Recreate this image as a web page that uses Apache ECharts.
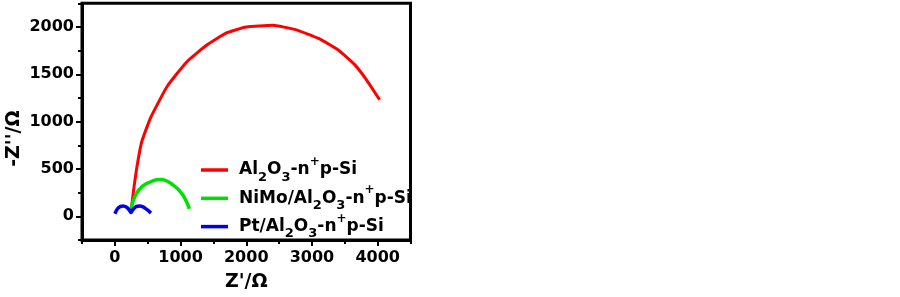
<!DOCTYPE html>
<html><head><meta charset="utf-8">
<script src="https://cdn.jsdelivr.net/npm/echarts@6/dist/echarts.min.js"></script>
<style>html,body{margin:0;padding:0;background:#fff}#c{width:900px;height:297px}</style>
</head><body><div id="c"></div>
<script>
const seriesNames = ['Al2O3-n+p-Si', 'NiMo/Al2O3-n+p-Si', 'Pt/Al2O3-n+p-Si'];
const xTicks = [0, 1000, 2000, 3000, 4000];
const yTicks = [0, 500, 1000, 1500, 2000];
const redData = [[245,45],[290,300],[340,540],[410,790],[550,1050],[800,1376],[1100,1636],[1400,1809],[1700,1937],[2000,1999],[2400,2017],[2750,1972],[3100,1879],[3400,1757],[3650,1602],[3825,1446],[4030,1231]];
const greenData = [[245,80],[320,230],[425,322],[575,374],[700,388],[875,338],[1025,235],[1135,79]];
const blueData = [[0,27],[40,80],[80,102],[125,108],[180,95],[220,65],[245,40],[270,65],[320,100],[375,110],[430,100],[490,70],[550,34]];

const FONT = 'DejaVu Sans';
const chart = echarts.init(document.getElementById('c'), null, {renderer: 'canvas'});
const legendFmt = n => n.replace('Al2O3', 'Al{sub|2}O{sub|3}').replace('n+p', 'n{sup|+}p');
const plainFmt = v => String(v);
const tickStyle = {color: '#000', width: 2};
chart.setOption({
  animation: false,
  backgroundColor: '#fff',
  grid: {left: 82, right: 489.5, top: 3.3, bottom: 53.7, show: true, borderColor: '#000', borderWidth: 3, backgroundColor: 'transparent'},
  legend: {
    orient: 'vertical', left: 196, top: 151, itemGap: 0.3, itemWidth: 27, itemHeight: 3.5, icon: 'rect',
    data: seriesNames,
    formatter: legendFmt,
    textStyle: {
      fontFamily: FONT, fontWeight: 'bold', fontSize: 17, color: '#000', lineHeight: 28, padding: [0,0,0,6],
      rich: {
        sub: {fontFamily: FONT, fontWeight: 'bold', fontSize: 13, lineHeight: 13, verticalAlign: 'bottom', color: '#000'},
        sup: {fontFamily: FONT, fontWeight: 'bold', fontSize: 12, lineHeight: 12, verticalAlign: 'top', color: '#000'}
      }
    }
  },
  xAxis: [
    {type: 'value', min: -500, max: 4500, interval: 500, position: 'bottom',
     axisLine: {onZero: false, lineStyle: {color: '#000', width: 3}}, axisTick: {length: 4, lineStyle: tickStyle},
     axisLabel: {show: false}, splitLine: {show: false}},
    {type: 'value', min: -500, max: 4500, interval: 500, position: 'bottom',
     axisLine: {show: false, onZero: false}, axisTick: {customValues: xTicks, length: 6, lineStyle: tickStyle},
     axisLabel: {customValues: xTicks, formatter: plainFmt, fontFamily: FONT, fontWeight: 'bold', fontSize: 16, color: '#000', margin: 10},
     splitLine: {show: false},
     name: "Z'/Ω", nameLocation: 'middle', nameGap: 33,
     nameTextStyle: {fontFamily: FONT, fontWeight: 'bold', fontSize: 19, color: '#000'}}
  ],
  yAxis: [
    {type: 'value', min: -250, max: 2250, interval: 250, position: 'left',
     axisLine: {onZero: false, lineStyle: {color: '#000', width: 3}}, axisTick: {length: 4, lineStyle: tickStyle},
     axisLabel: {show: false}, splitLine: {show: false}},
    {type: 'value', min: -250, max: 2250, interval: 250, position: 'left',
     axisLine: {show: false, onZero: false}, axisTick: {customValues: yTicks, length: 6, lineStyle: tickStyle},
     axisLabel: {customValues: yTicks, formatter: plainFmt, fontFamily: FONT, fontWeight: 'bold', fontSize: 16, color: '#000', margin: 8},
     splitLine: {show: false},
     name: "-Z''/Ω", nameLocation: 'middle', nameGap: 58, nameRotate: 90,
     nameTextStyle: {fontFamily: FONT, fontWeight: 'bold', fontSize: 19, color: '#000', padding: [0, 34, 0, 0]}}
  ],
  series: [
    {name: seriesNames[0], type: 'line', data: redData, showSymbol: false, smooth: 0.15, lineStyle: {color: '#ff0000', width: 3}, itemStyle: {color: '#ff0000'}},
    {name: seriesNames[1], type: 'line', data: greenData, showSymbol: false, smooth: 0.4, lineStyle: {color: '#00e000', width: 3.5}, itemStyle: {color: '#00e000'}},
    {name: seriesNames[2], type: 'line', data: blueData, showSymbol: false, smooth: 0.3, lineStyle: {color: '#0000ee', width: 3.5}, itemStyle: {color: '#0000ee'}}
  ]
});
</script>
</body></html>
